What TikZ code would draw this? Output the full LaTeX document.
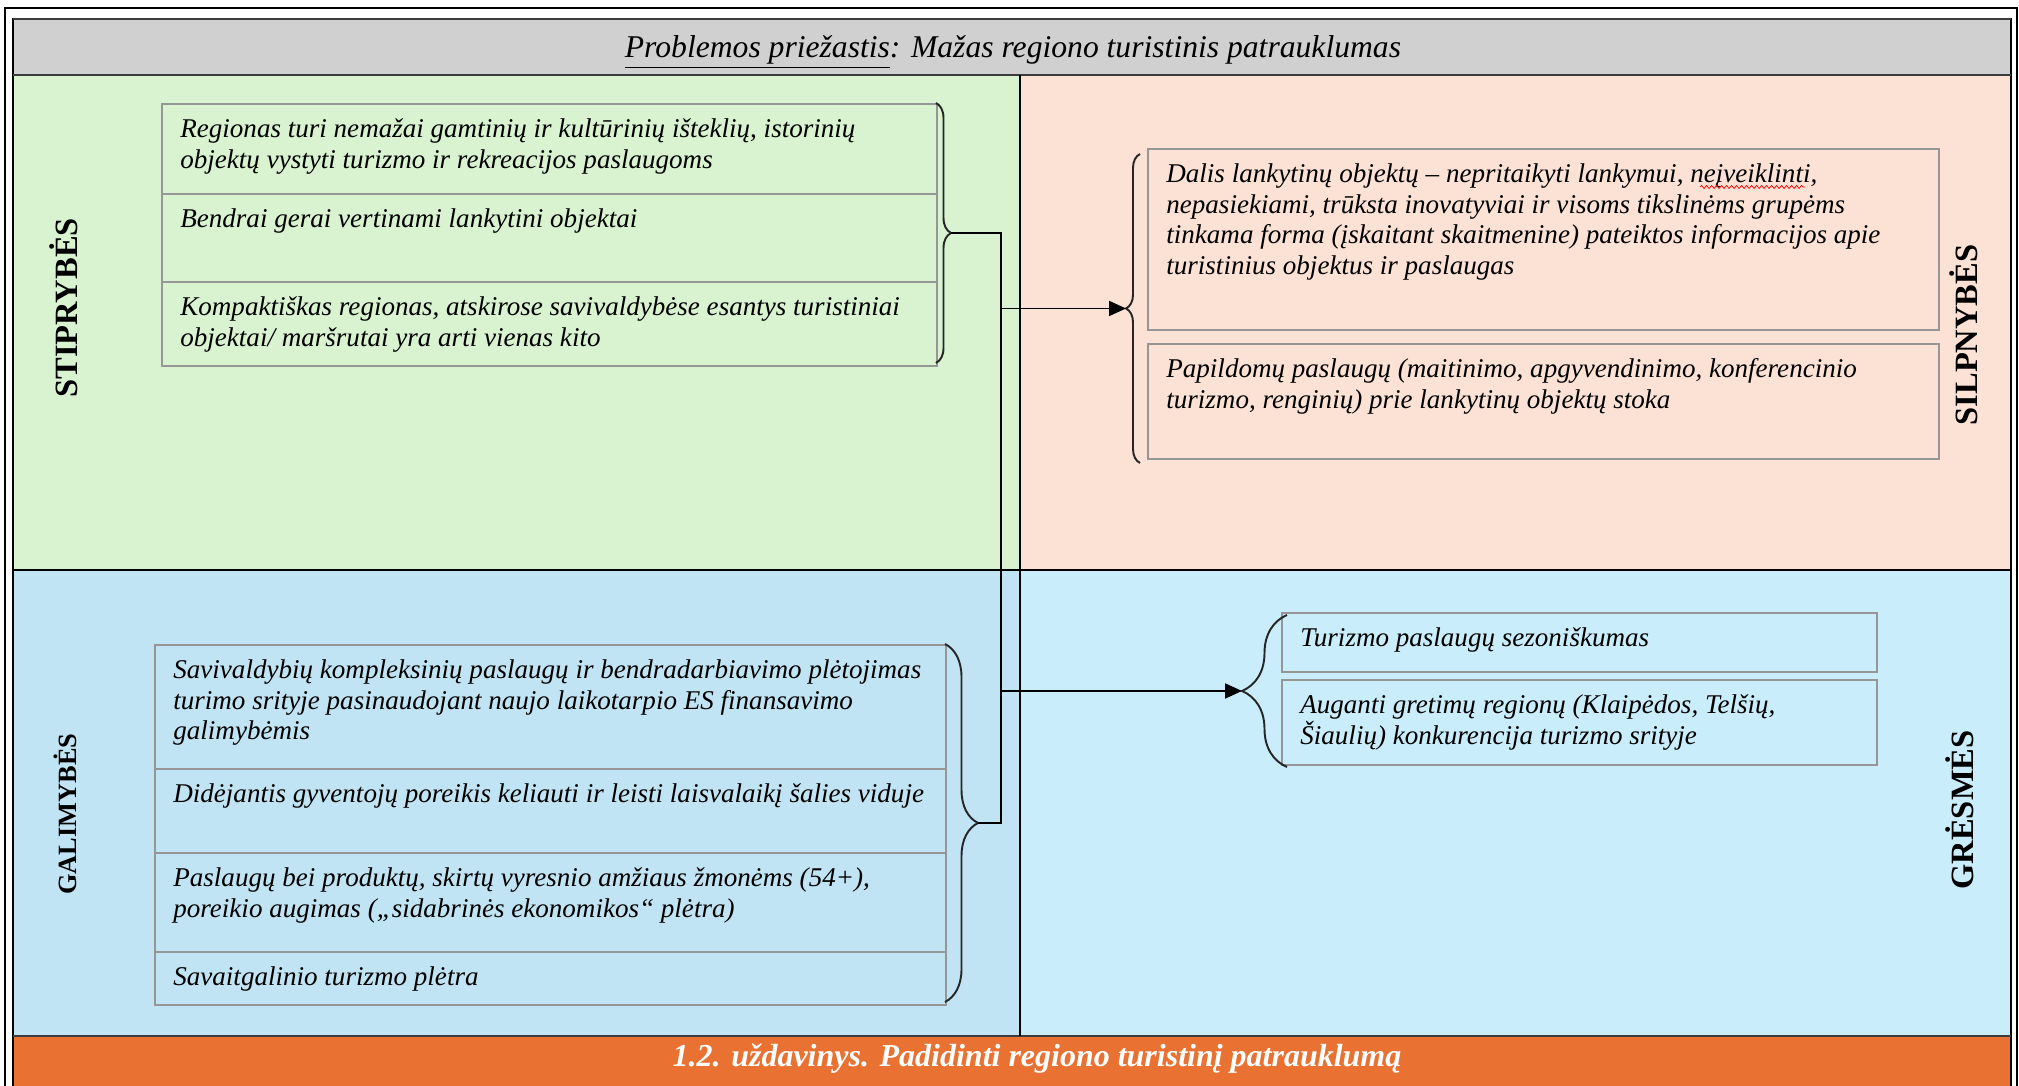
\documentclass[tikz,border=0pt]{standalone}
\usepackage{fontspec}
\setmainfont{Liberation Serif}
\usetikzlibrary{arrows.meta,calc,decorations.pathreplacing,decorations.pathmorphing}

\definecolor{titlegray}{RGB}{208,208,208}
\definecolor{strgreen}{RGB}{217,242,208}
\definecolor{wkpeach}{RGB}{251,226,213}
\definecolor{oppblue}{RGB}{193,228,244}
\definecolor{thrblue}{RGB}{202,237,251}
\definecolor{taskorange}{RGB}{233,113,50}
\definecolor{boxgray}{RGB}{150,150,150}
\definecolor{rulegray}{RGB}{60,60,60}

\tikzset{
  box/.style 2 args={draw=boxgray, line width=1pt, anchor=north west, inner sep=0pt,
    minimum width=#1, minimum height=#2},
  boxtxt/.style={anchor=north west, inner xsep=0.38cm, inner ysep=0.3cm, align=left,
    font=\fontsize{15.4}{17.6}\selectfont\itshape},
  side/.style={rotate=90, font=\fontsize{18.5}{20}\selectfont\bfseries},
  grp/.style={decorate, line width=1.1pt, draw=black!85},
  link/.style={line width=1.1pt},
  tip/.style={-{Triangle[length=0.34cm,width=0.3cm]}},
}

\begin{document}
\begin{tikzpicture}
    \useasboundingbox (0,0) rectangle (40.38,21.72);
    \clip (0,0) rectangle (40.38,21.72);
    % fields
    \fill[white] (0,0) rectangle (40.38,21.72);
    \fill[titlegray] (0.26,20.22) rectangle (40.22,21.34);
    \fill[strgreen] (0.26,10.32) rectangle (20.40,20.22);
    \fill[wkpeach] (20.40,10.32) rectangle (40.22,20.22);
    \fill[oppblue] (0.26,1.00) rectangle (20.40,10.32);
    \fill[thrblue] (20.40,1.00) rectangle (40.22,10.32);
    \fill[taskorange] (0.26,-1) rectangle (40.22,1.00);
    % frames and grid
    \draw[line width=0.8pt] (0.10,-1) rectangle (40.34,21.56);
    \draw[line width=0.8pt] (0.26,-1) rectangle (40.22,21.34);
    \draw[rulegray, line width=1.6pt] (0.26,21.34) -- (40.22,21.34);
    \draw[rulegray, line width=1.6pt] (0.26,20.22) -- (40.22,20.22);
    \draw[rulegray, line width=1.6pt] (0.26,1.00) -- (40.22,1.00);
    \draw[line width=0.9pt] (20.40,20.22) -- (20.40,1.00);
    \draw[line width=0.9pt] (0.26,10.32) -- (40.22,10.32);

    \node[font=\fontsize{18}{20}\selectfont\itshape] (title) at (20.26,20.68)
        {\underline{Problemos priežastis}: Mažas regiono turistinis patrauklumas};
    \node[font=\fontsize{18.2}{20}\selectfont\bfseries\itshape, text=white] (task) at (20.74,0.54)
        {1.2. uždavinys. Padidinti regiono turistinį patrauklumą};

    \node[side] (strlbl) at (1.28,15.56) {STIPRYBĖS};
    \node[side, font=\fontsize{15}{18}\selectfont\bfseries] (opplbl) at (1.30,5.44) {GALIMYBĖS};
    \node[side] (wklbl) at (39.28,15.02) {SILPNYBĖS};
    \node[side] (thrlbl) at (39.20,5.52) {GRĖSMĖS};

    % stiprybes
    \node[box={15.5cm}{1.8cm}, label={[boxtxt]north west:{Regionas turi nemažai gamtinių ir kultūrinių išteklių, istorinių\\objektų vystyti turizmo ir rekreacijos paslaugoms}}] (s1) at (3.22,19.66) {};
    \node[box={15.5cm}{1.76cm}, label={[boxtxt]north west:{Bendrai gerai vertinami lankytini objektai}}] (s2) at (3.22,17.86) {};
    \node[box={15.5cm}{1.68cm}, label={[boxtxt]north west:{Kompaktiškas regionas, atskirose savivaldybėse esantys  turistiniai\\objektai/ maršrutai yra arti vienas kito}}] (s3) at (3.22,16.10) {};

    % silpnybes
    \node[box={15.82cm}{3.62cm}, label={[boxtxt]north west:{Dalis lankytinų objektų -- nepritaikyti lankymui, neįveiklinti,\\nepasiekiami, trūksta inovatyviai ir visoms tikslinėms grupėms\\tinkama forma (įskaitant skaitmenine) pateiktos informacijos apie\\turistinius objektus ir paslaugas}}] (w1) at (22.94,18.76) {};
    \node[box={15.82cm}{2.30cm}, label={[boxtxt]north west:{Papildomų paslaugų (maitinimo, apgyvendinimo, konferencinio\\turizmo, renginių) prie lankytinų objektų stoka}}] (w2) at (22.94,14.86) {};
    \draw[red, decorate, decoration={snake, amplitude=0.03cm, segment length=0.1cm}] (34.0,17.98) -- (36.1,17.98);

    % galimybes
    \node[box={15.82cm}{2.48cm}, label={[boxtxt]north west:{Savivaldybių kompleksinių paslaugų ir bendradarbiavimo plėtojimas\\turimo srityje pasinaudojant naujo laikotarpio ES finansavimo\\galimybėmis}}] (o1) at (3.08,8.84) {};
    \node[box={15.82cm}{1.68cm}, label={[boxtxt]north west:{Didėjantis gyventojų poreikis keliauti ir leisti laisvalaikį šalies viduje}}] (o2) at (3.08,6.36) {};
    \node[box={15.82cm}{1.98cm}, label={[boxtxt]north west:{Paslaugų bei produktų, skirtų vyresnio amžiaus žmonėms (54+),\\poreikio augimas („sidabrinės ekonomikos“ plėtra)}}] (o3) at (3.08,4.68) {};
    \node[box={15.82cm}{1.06cm}, label={[boxtxt]north west:{Savaitgalinio turizmo plėtra}}] (o4) at (3.08,2.70) {};

    % gresmes
    \node[box={11.9cm}{1.18cm}, label={[boxtxt]north west:{Turizmo paslaugų sezoniškumas}}] (t1) at (25.62,9.48) {};
    \node[box={11.9cm}{1.70cm}, label={[boxtxt]north west:{Auganti gretimų regionų (Klaipėdos, Telšių,\\Šiaulių) konkurencija turizmo srityje}}] (t2) at (25.62,8.14) {};

    % braces
    \coordinate (sTop) at (18.72,19.66);
    \coordinate (sBot) at (18.72,14.46);
    \coordinate (wTop) at (22.80,18.64);
    \coordinate (wBot) at (22.80,12.46);
    \coordinate (oTop) at (18.90,8.84);
    \coordinate (oBot) at (18.90,1.68);
    \coordinate (tTop) at (25.74,9.42);
    \coordinate (tBot) at (25.74,6.38);
    \draw[grp, decoration={brace, amplitude=0.3cm}] (sTop) -- (sBot);
    \draw[grp, decoration={brace, amplitude=0.28cm}] (wBot) -- (wTop);
    \draw[grp, decoration={brace, amplitude=0.66cm}] (oTop) -- (oBot);
    \draw[grp, decoration={brace, amplitude=0.9cm}] (tBot) -- (tTop);
    \coordinate (sTip) at ($(sTop)!0.5!(sBot)+(0.3,0)$);
    \coordinate (wTip) at ($(wTop)!0.5!(wBot)-(0.28,0)$);
    \coordinate (oTip) at ($(oTop)!0.5!(oBot)+(0.66,0)$);
    \coordinate (tTip) at ($(tTop)!0.5!(tBot)-(0.9,0)$);

    % connectors
    \coordinate (bus) at (20.02,0);
    \draw[link] (sTip) -- (sTip -| bus) -- (oTip -| bus) -- (oTip);
    \draw[link, tip] (wTip -| bus) -- (wTip);
    \draw[link, tip] (tTip -| bus) -- (tTip);
\end{tikzpicture}
\end{document}
